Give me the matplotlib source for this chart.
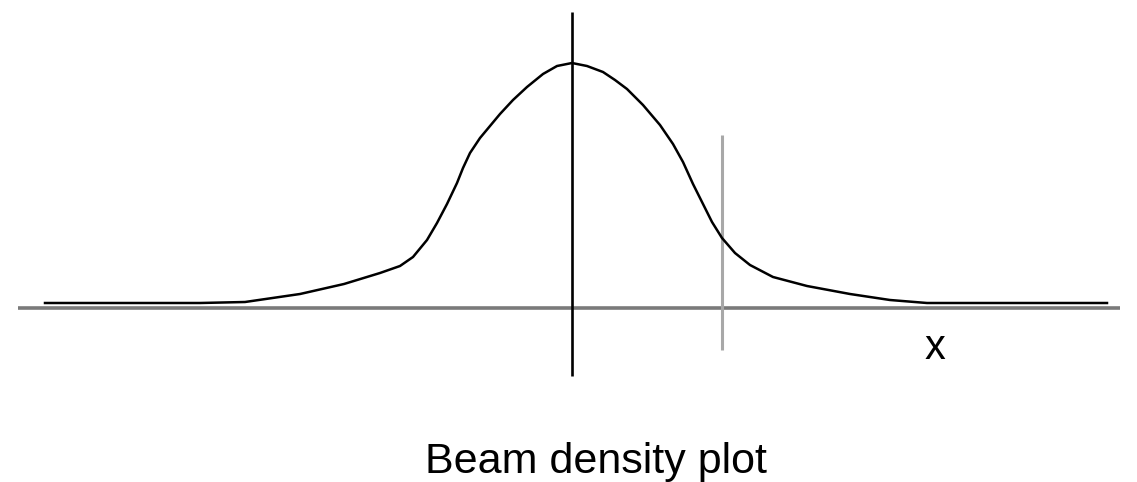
import numpy as np
import matplotlib.pyplot as plt

# beam profile: position along x, height above the baseline
beam_x = [45, 200, 245, 300, 344, 380, 400, 413, 427, 437, 447, 457, 463, 470,
          480, 490, 500, 513, 527, 543, 557, 572, 587, 603, 615, 627, 643, 660,
          673, 683, 693, 703, 712, 722, 735, 750, 773, 807, 850, 890, 927, 990, 1107]
beam_h = [5, 5, 6, 14, 24, 35, 42, 51, 68, 85, 104, 125, 140, 155,
          170, 182, 194, 208, 221, 234, 242, 245, 242, 236, 228, 219, 203, 183,
          164, 146, 124, 104, 86, 70, 55, 43, 31, 22, 14, 8, 5, 5, 5]

centre_x = 572
cut_x = 722
axis_label = "x"
title = "Beam density plot"

plt.rcParams['font.family'] = ['Liberation Sans', 'DejaVu Sans']

fig = plt.figure(figsize=(11.37, 4.82), dpi=100)
ax = fig.add_axes([0, 0, 1, 1])
ax.set_xlim(0, 1137)
ax.set_ylim(-174, 308)
ax.axis("off")

# baseline
ax.plot([18, 1120], [0, 0], color="#7a7a7a", lw=2.6, solid_capstyle="butt", zorder=1)
# centre line and cut line
ax.plot([centre_x, centre_x], [-68, 296], color="black", lw=1.9, solid_capstyle="butt", zorder=3)
ax.plot([cut_x, cut_x], [-42, 173], color="#a8a8a8", lw=2.2, solid_capstyle="butt", zorder=2)
# density curve
ax.plot(beam_x, beam_h, color="black", lw=1.8, zorder=4)

ax.text(935, -40, axis_label, fontsize=30, ha="center", va="center")
ax.text(centre_x + 24, -154, title, fontsize=31, ha="center", va="center")

fig.savefig("out.png", dpi=100)
